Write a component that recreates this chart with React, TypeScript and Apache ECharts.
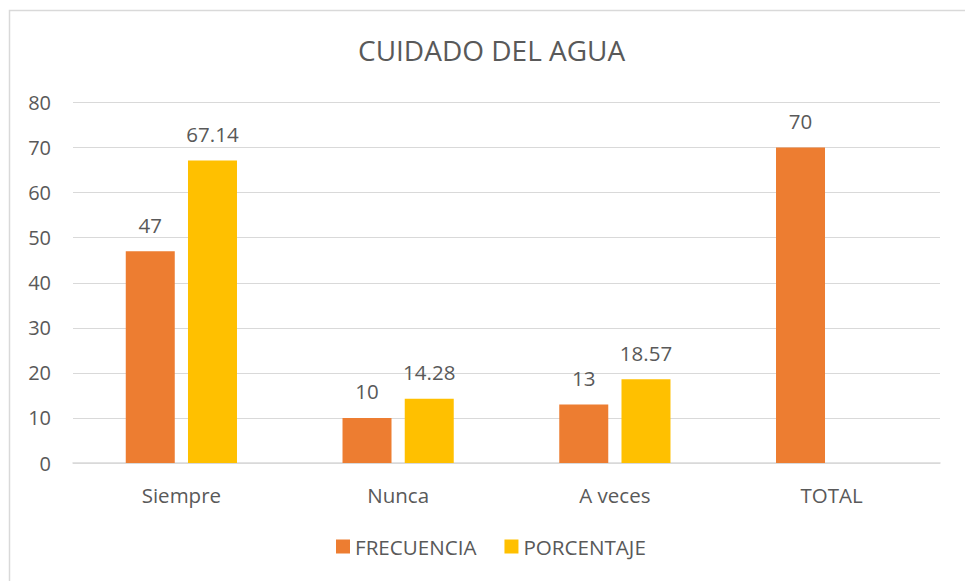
import React, { useEffect, useRef } from "react";
import * as echarts from "echarts";

const categories = ["Siempre", "Nunca", "A veces", "TOTAL"];
const frecuencia = [47, 10, 13, 70];
const porcentaje: (number | null)[] = [67.14, 14.28, 18.57, null];
const yTicks = { min: 0, max: 80, interval: 10 };

const FONT = "'Open Sans', 'Noto Sans', sans-serif";
const TXT = "#595959";

export default function App() {
  const ref = useRef<HTMLDivElement>(null);
  useEffect(() => {
    if (!ref.current) return;
    const chart = echarts.init(ref.current, undefined, { renderer: "svg" });
    chart.setOption({
      animation: false,
      backgroundColor: "#ffffff",
      textStyle: { fontFamily: FONT, color: TXT },
      title: {
        text: "CUIDADO DEL AGUA",
        left: 353,
        top: 31,
        textStyle: { fontFamily: FONT, fontSize: 28, fontWeight: "normal", color: TXT },
      },
      legend: {
        bottom: 19,
        left: 331,
        itemWidth: 14,
        itemHeight: 14,
        itemGap: 28,
        icon: "rect",
        textStyle: { fontFamily: FONT, fontSize: 20.6, color: TXT },
      },
      grid: { left: 73, right: 25, top: 102.5, bottom: 118 },
      xAxis: {
        type: "category",
        data: categories,
        axisLine: { show: true, lineStyle: { color: "#d9d9d9", width: 1.5 } },
        axisTick: { show: false },
        axisLabel: { fontFamily: FONT, fontSize: 20.5, color: TXT, margin: 21 },
      },
      yAxis: {
        type: "value",
        min: yTicks.min,
        max: yTicks.max,
        interval: yTicks.interval,
        axisLine: { show: false },
        axisTick: { show: false },
        axisLabel: { fontFamily: FONT, fontSize: 20, color: TXT, margin: 22 },
        splitLine: { lineStyle: { color: "#d9d9d9", width: 1.2 } },
      },
      series: [
        {
          name: "FRECUENCIA",
          type: "bar",
          data: frecuencia,
          barWidth: 49,
          barGap: "27%",
          itemStyle: { color: "#ED7D31" },
          label: { show: true, position: "top", distance: 16, fontFamily: FONT, fontSize: 20.5, color: TXT },
        },
        {
          name: "PORCENTAJE",
          type: "bar",
          data: porcentaje,
          barWidth: 49,
          barGap: "27%",
          itemStyle: { color: "#FFC000" },
          label: { show: true, position: "top", distance: 16, fontFamily: FONT, fontSize: 20.5, color: TXT },
        },
      ],
      graphic: [
        {
          type: "rect",
          shape: { x: 9.5, y: 10.5, width: 980, height: 600 },
          style: { fill: "none", stroke: "#d9d9d9", lineWidth: 1.5 },
          silent: true,
        },
      ],
    });
    return () => chart.dispose();
  }, []);
  return (
    <div
      ref={ref}
      style={{ position: "fixed", left: 0, top: 0, width: 965, height: 581 }}
    />
  );
}
